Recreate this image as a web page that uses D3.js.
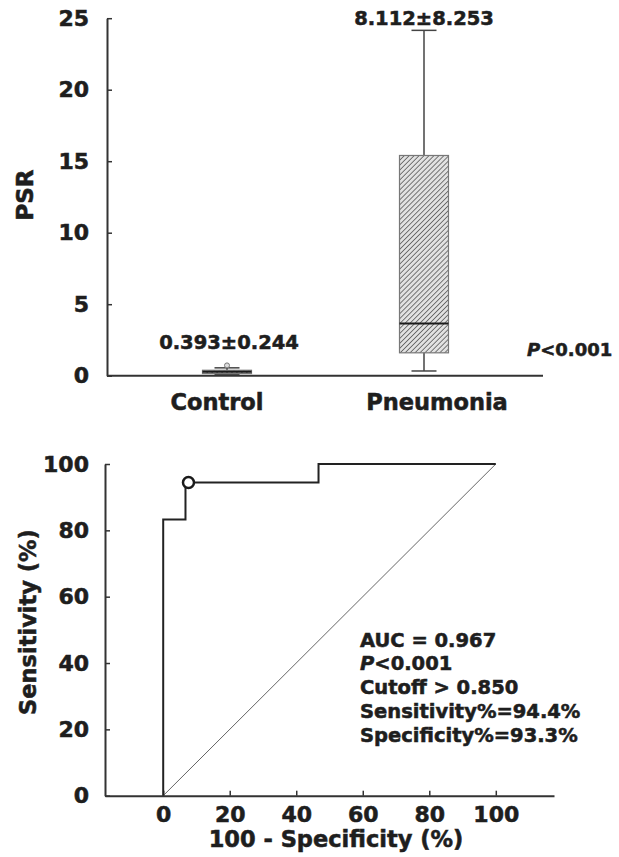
<!DOCTYPE html>
<html>
<head>
<meta charset="utf-8">
<script src="https://cdn.jsdelivr.net/npm/d3@7"></script>
<style>
  body { margin: 0; background: #fff; }
  text { font-family: "DejaVu Sans", sans-serif; font-weight: bold; fill: #1e1e1e; stroke: #1e1e1e; stroke-width: 0.55px; }
</style>
</head>
<body>
<svg id="chart" width="619" height="857"></svg>
<script>
// box plot data (PSR)
const groups = ["Control", "Pneumonia"];
const lowWhisker = [0.1, 0.33];
const q1 = [0.15, 1.6];
const median = [0.28, 3.65];
const q3 = [0.38, 15.4];
const highWhisker = [0.55, 24.15];
const outliers = [[0.72], []];
const meanSd = ["0.393\u00b10.244", "8.112\u00b18.253"];
const psrTicks = [0, 5, 10, 15, 20, 25];

// ROC curve
const fpr = [0, 0, 6.7, 6.7, 46.7, 46.7, 100];
const tpr = [0, 83.3, 83.3, 94.4, 94.4, 100, 100];
const cutoffPoint = [6.7, 94.4];
const rocTicks = [0, 20, 40, 60, 80, 100];
const rocNotes = ["AUC = 0.967", "P<0.001", "Cutoff > 0.850", "Sensitivity%=94.4%", "Specificity%=93.3%"];

const svg = d3.select("#chart");
const axisColor = "#333";

// hatch pattern for the boxes
const defs = svg.append("defs");
const pat = defs.append("pattern")
  .attr("id", "hatch")
  .attr("patternUnits", "userSpaceOnUse")
  .attr("width", 3.5).attr("height", 3.5)
  .attr("patternTransform", "rotate(45)");
pat.append("rect").attr("width", 3.5).attr("height", 3.5).attr("fill", "#e2e2e2");
pat.append("line").attr("x1", 0).attr("y1", 0).attr("x2", 0).attr("y2", 3.5)
  .attr("stroke", "#5a5a5a").attr("stroke-width", 1.6);

// ---------- top: box plot ----------
const x1 = d3.scalePoint().domain(groups).range([227, 424]);
const y1 = d3.scaleLinear().domain([0, 25]).range([375.7, 18.2]);

const yAxis1 = svg.append("g")
  .attr("transform", "translate(107,0)")
  .call(d3.axisLeft(y1).tickValues(psrTicks).tickSizeInner(-5).tickSizeOuter(0).tickPadding(18));
yAxis1.select(".domain").attr("stroke", axisColor).attr("stroke-width", 2);
yAxis1.selectAll(".tick line").attr("stroke", axisColor).attr("stroke-width", 1.5);
yAxis1.selectAll(".tick text").style("font-size", "22px").attr("fill", "#1e1e1e");

svg.append("line")
  .attr("x1", 107).attr("x2", 543)
  .attr("y1", y1(0)).attr("y2", y1(0))
  .attr("stroke", axisColor).attr("stroke-width", 2);

svg.append("text")
  .attr("transform", "translate(33,195) rotate(-90)")
  .attr("text-anchor", "middle")
  .style("font-size", "23px")
  .text("PSR");

const boxW = 49, capW = 25;
groups.forEach((g, i) => {
  const cx = x1(g);
  const grp = svg.append("g");
  // whiskers
  grp.append("line")
    .attr("x1", cx).attr("x2", cx)
    .attr("y1", y1(lowWhisker[i])).attr("y2", y1(highWhisker[i]))
    .attr("stroke", "#444").attr("stroke-width", 1.5);
  [lowWhisker[i], highWhisker[i]].forEach(v => {
    grp.append("line")
      .attr("x1", cx - capW / 2).attr("x2", cx + capW / 2)
      .attr("y1", y1(v)).attr("y2", y1(v))
      .attr("stroke", "#444").attr("stroke-width", 1.5);
  });
  // box
  grp.append("rect")
    .attr("x", cx - boxW / 2).attr("width", boxW)
    .attr("y", y1(q3[i])).attr("height", Math.max(y1(q1[i]) - y1(q3[i]), 1))
    .attr("fill", "url(#hatch)")
    .attr("stroke", "#777").attr("stroke-width", 1.2);
  // median
  grp.append("line")
    .attr("x1", cx - boxW / 2).attr("x2", cx + boxW / 2)
    .attr("y1", y1(median[i])).attr("y2", y1(median[i]))
    .attr("stroke", "#1a1a1a").attr("stroke-width", 2);
  // outliers
  grp.selectAll("circle.out")
    .data(outliers[i])
    .enter().append("circle")
    .attr("cx", cx).attr("cy", d => y1(d)).attr("r", 2.5)
    .attr("fill", "#ddd").attr("stroke", "#777").attr("stroke-width", 1);
  // mean ± sd
  const topVal = d3.max([highWhisker[i], ...outliers[i]]);
  svg.append("text")
    .attr("x", cx + (i === 0 ? 2 : 0))
    .attr("y", y1(topVal) - (i === 0 ? 16 : 5))
    .attr("text-anchor", "middle")
    .style("font-size", "19.5px")
    .text(meanSd[i]);
  // category label
  svg.append("text")
    .attr("x", cx + (i === 0 ? -10 : 13))
    .attr("y", 410)
    .attr("text-anchor", "middle")
    .style("font-size", "22.5px")
    .text(g);
});

const pTop = svg.append("text").attr("x", 527).attr("y", 356).style("font-size", "18px");
pTop.append("tspan").style("font-style", "italic").text("P");
pTop.append("tspan").text("<0.001");

// ---------- bottom: ROC ----------
const x2 = d3.scaleLinear().domain([-17.5, 117.5]).range([105, 554]);
const y2 = d3.scaleLinear().domain([0, 100]).range([795.7, 464]);

const xAxis2 = svg.append("g")
  .attr("transform", `translate(0,${y2(0)})`)
  .call(d3.axisBottom(x2).tickValues(rocTicks).tickSizeInner(-5).tickSizeOuter(0).tickPadding(11));
xAxis2.select(".domain").attr("stroke", axisColor).attr("stroke-width", 2);
xAxis2.selectAll(".tick line").attr("stroke", axisColor).attr("stroke-width", 1.5);
xAxis2.selectAll(".tick text").style("font-size", "22px").attr("fill", "#1e1e1e");

const yAxis2 = svg.append("g")
  .attr("transform", "translate(105,0)")
  .call(d3.axisLeft(y2).tickValues(rocTicks).tickSizeInner(-5).tickSizeOuter(0).tickPadding(16));
yAxis2.select(".domain").attr("stroke", axisColor).attr("stroke-width", 2);
yAxis2.selectAll(".tick line").attr("stroke", axisColor).attr("stroke-width", 1.5);
yAxis2.selectAll(".tick text").style("font-size", "22px").attr("fill", "#1e1e1e");

// reference diagonal
svg.append("line")
  .attr("x1", x2(0)).attr("y1", y2(0))
  .attr("x2", x2(100)).attr("y2", y2(100))
  .attr("stroke", "#666").attr("stroke-width", 1);

const rocPts = fpr.map((f, i) => [f, tpr[i]]);
svg.append("path")
  .datum(rocPts)
  .attr("d", d3.line().x(d => x2(d[0])).y(d => y2(d[1])))
  .attr("fill", "none")
  .attr("stroke", "#222")
  .attr("stroke-width", 2);

svg.append("circle")
  .attr("cx", x2(cutoffPoint[0]) + 3).attr("cy", y2(cutoffPoint[1]))
  .attr("r", 5.5)
  .attr("fill", "#fff").attr("stroke", "#1a1a1a").attr("stroke-width", 2.5);

svg.append("text")
  .attr("transform", "translate(36,622) rotate(-90)")
  .attr("text-anchor", "middle")
  .style("font-size", "22.5px")
  .text("Sensitivity (%)");

svg.append("text")
  .attr("x", 336).attr("y", 847)
  .attr("text-anchor", "middle")
  .style("font-size", "22.5px")
  .text("100 - Specificity (%)");

const notes = svg.append("g");
rocNotes.forEach((t, i) => {
  const tx = notes.append("text")
    .attr("x", 360).attr("y", 646.5 + i * 23.8)
    .style("font-size", "19.5px");
  if (t.startsWith("P<")) {
    tx.append("tspan").style("font-style", "italic").text("P");
    tx.append("tspan").text(t.slice(1));
  } else {
    tx.text(t);
  }
});
</script>
</body>
</html>
